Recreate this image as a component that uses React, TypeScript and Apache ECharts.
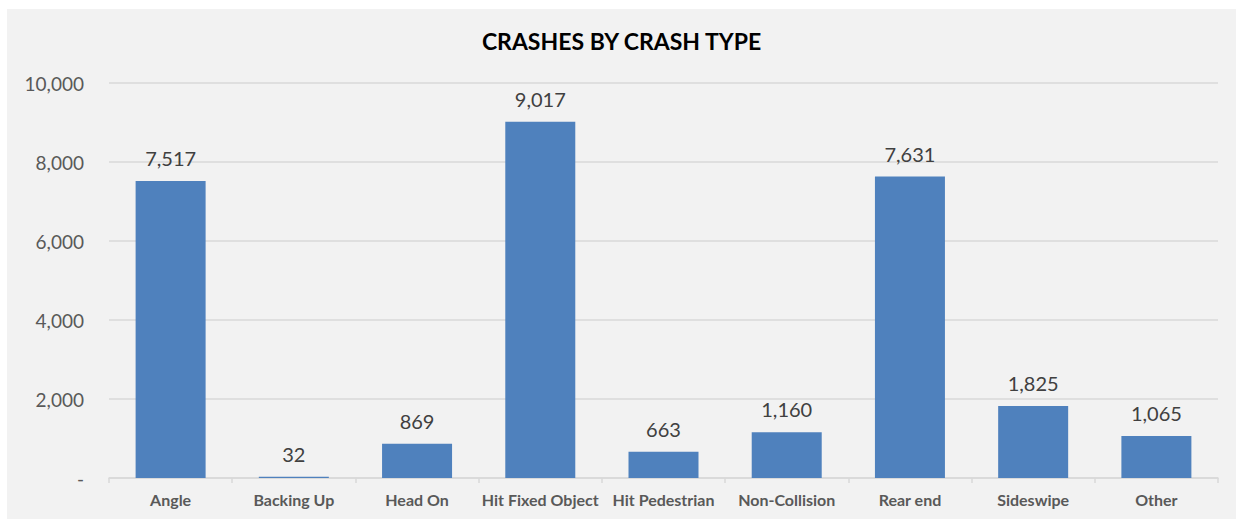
import React, { useEffect, useRef } from "react";
import * as echarts from "echarts";

const categories = [
  "Angle",
  "Backing Up",
  "Head On",
  "Hit Fixed Object",
  "Hit Pedestrian",
  "Non-Collision",
  "Rear end",
  "Sideswipe",
  "Other",
];
const crashCounts = [7517, 32, 869, 9017, 663, 1160, 7631, 1825, 1065];
const yTicks = { min: 0, max: 10000, interval: 2000 };

const fmt = (v: number) => (v === 0 ? "-" : v.toLocaleString("en-US"));

export default function App() {
  const ref = useRef<HTMLDivElement>(null);

  useEffect(() => {
    document.body.style.margin = "0";
    const chart = echarts.init(ref.current!, null, { renderer: "svg" });
    chart.setOption({
      animation: false,
      backgroundColor: "#f2f2f2",
      textStyle: { fontFamily: "Lato, 'Open Sans', sans-serif" },
      title: {
        text: "CRASHES BY CRASH TYPE",
        left: "center",
        top: 15,
        textStyle: {
          fontSize: 23,
          fontWeight: "bold",
          color: "#000000",
          fontFamily: "Lato, sans-serif",
        },
      },
      grid: { left: 102, right: 18, top: 74, bottom: 41 },
      xAxis: {
        type: "category",
        data: categories,
        axisLine: { lineStyle: { color: "#d9d9d9", width: 1.5 } },
        axisTick: {
          show: true,
          alignWithLabel: false,
          length: 5,
          lineStyle: { color: "#d9d9d9", width: 1.5 },
        },
        axisLabel: {
          color: "#595959",
          fontSize: 16,
          fontWeight: "bold",
          margin: 13,
          interval: 0,
        },
      },
      yAxis: {
        type: "value",
        min: yTicks.min,
        max: yTicks.max,
        interval: yTicks.interval,
        axisLine: { show: false },
        axisTick: { show: false },
        splitLine: { lineStyle: { color: "#d9d9d9", width: 1.5 } },
        axisLabel: {
          color: "#595959",
          fontSize: 19,
          margin: 25,
          formatter: (v: number) => fmt(v),
        },
      },
      series: [
        {
          type: "bar",
          data: crashCounts,
          barWidth: 70,
          itemStyle: { color: "#4f81bd" },
          label: {
            show: true,
            position: "top",
            distance: 13,
            color: "#404040",
            fontSize: 20,
            formatter: (p: any) => fmt(p.value),
          },
        },
      ],
    });
    return () => chart.dispose();
  }, []);

  return (
    <div style={{ width: 1236, height: 519, background: "#ffffff", position: "relative" }}>
      <div
        ref={ref}
        style={{ position: "absolute", left: 7, top: 9, width: 1229, height: 510 }}
      />
    </div>
  );
}
